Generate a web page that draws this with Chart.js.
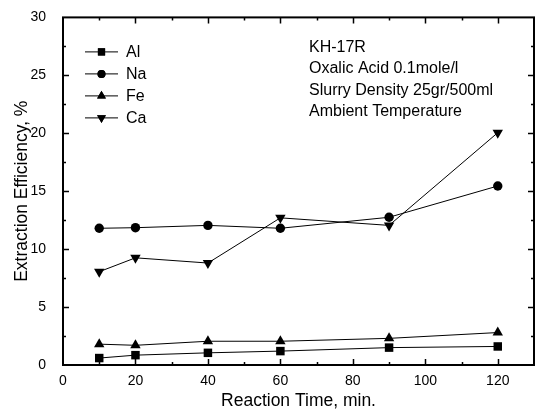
<!DOCTYPE html>
<html>
<head>
<meta charset="utf-8">
<script src="https://cdn.jsdelivr.net/npm/chart.js@4/dist/chart.umd.min.js"></script>
<style>
html,body{margin:0;padding:0;background:#fff;}
#wrap{width:540px;height:413px;position:relative;}
</style>
</head>
<body>
<div id="wrap"><canvas id="c"></canvas></div>
<script>
const times = [10, 20, 40, 60, 90, 120];
const seriesNames = ['Al', 'Na', 'Fe', 'Ca'];
const alValues = [0.6, 0.85, 1.05, 1.2, 1.5, 1.6];
const naValues = [11.8, 11.85, 12.05, 11.8, 12.75, 15.45];
const feValues = [1.8, 1.7, 2.05, 2.05, 2.3, 2.8];
const caValues = [8.05, 9.25, 8.8, 12.7, 12.05, 20.05];
const xTickLabels = [0, 20, 40, 60, 80, 100, 120];
const yTickLabels = [0, 5, 10, 15, 20, 25, 30];
const annotationLines = ['KH-17R', 'Oxalic Acid 0.1mole/l', 'Slurry Density 25gr/500ml', 'Ambient Temperature'];

const FONT = "'Liberation Sans', Arial, Helvetica, sans-serif";
const styles = [
  {pointStyle: 'rect', pointRadius: 6, rotation: 0},
  {pointStyle: 'circle', pointRadius: 4.7, rotation: 0},
  {pointStyle: 'triangle', pointRadius: 6, rotation: 0},
  {pointStyle: 'triangle', pointRadius: 6, rotation: 180}
];
const allValues = [alValues, naValues, feValues, caValues];

const datasets = seriesNames.map((name, i) => ({
  label: name,
  data: times.map((t, j) => ({x: t, y: allValues[i][j]})),
  borderColor: '#000',
  backgroundColor: '#000',
  borderWidth: 1,
  pointStyle: styles[i].pointStyle,
  pointRadius: styles[i].pointRadius,
  pointHoverRadius: styles[i].pointRadius,
  pointRotation: styles[i].rotation,
  pointBorderWidth: 0,
  pointBackgroundColor: '#000',
  tension: 0,
  clip: false
}));

const framePlugin = {
  id: 'frame',
  afterDraw(chart) {
    const {ctx, chartArea: a, scales: {x, y}} = chart;
    ctx.save();
    ctx.strokeStyle = '#000';
    ctx.lineWidth = 1.5;
    // inward ticks
    for (let v = 10; v < 130; v += 10) {
      const px = Math.round(x.getPixelForValue(v)) + 0.5;
      const len = (v % 20 === 0) ? 6 : 3;
      ctx.beginPath();
      ctx.moveTo(px, a.bottom); ctx.lineTo(px, a.bottom - len);
      ctx.moveTo(px, a.top); ctx.lineTo(px, a.top + len);
      ctx.stroke();
    }
    for (let v = 2.5; v < 30; v += 2.5) {
      const py = Math.round(y.getPixelForValue(v)) + 0.5;
      const len = (v % 5 === 0) ? 6 : 3;
      ctx.beginPath();
      ctx.moveTo(a.left, py); ctx.lineTo(a.left + len, py);
      ctx.moveTo(a.right, py); ctx.lineTo(a.right - len, py);
      ctx.stroke();
    }
    ctx.lineWidth = 2;
    ctx.strokeRect(a.left, a.top, a.right - a.left, a.bottom - a.top);

    // legend
    ctx.font = '16px ' + FONT;
    ctx.textBaseline = 'middle';
    ctx.fillStyle = '#000';
    const lx0 = a.left + 22, lx1 = a.left + 55, mx = a.left + 38.5;
    seriesNames.forEach((name, i) => {
      const ly = a.top + 34 + i * 22;
      ctx.lineWidth = 1;
      ctx.beginPath();
      ctx.moveTo(lx0, ly + 0.5); ctx.lineTo(lx1, ly + 0.5);
      ctx.stroke();
      Chart.helpers.drawPoint(ctx, {
        pointStyle: styles[i].pointStyle,
        rotation: styles[i].rotation,
        radius: styles[i].pointRadius * 0.85,
        borderWidth: 0
      }, mx, ly + 0.5);
      ctx.fill();
      ctx.fillText(name, lx1 + 8, ly + 1);
    });

    // annotation
    annotationLines.forEach((t, i) => {
      ctx.fillText(t, a.left + 246, a.top + 30 + i * 21.5);
    });
    ctx.restore();
  }
};

new Chart(document.getElementById('c'), {
  type: 'line',
  data: {datasets},
  options: {
    responsive: true,
    maintainAspectRatio: false,
    animation: false,
    events: [],
    layout: {padding: {left: 0, top: 14, right: 6, bottom: 0}},
    plugins: {legend: {display: false}, tooltip: {enabled: false}},
    scales: {
      x: {
        type: 'linear', min: 0, max: 130,
        grid: {display: false}, border: {display: false},
        afterBuildTicks: s => { s.ticks = xTickLabels.map(v => ({value: v})); },
        afterFit: s => { s.height = 48; },
        ticks: {color: '#000', padding: 0, maxRotation: 0, font: {family: FONT, size: 14}},
        title: {display: true, text: 'Reaction Time, min.', color: '#000', padding: {top: 0, bottom: 1.5}, font: {family: FONT, size: 17.5}}
      },
      y: {
        type: 'linear', min: 0, max: 30,
        grid: {display: false}, border: {display: false},
        afterBuildTicks: s => { s.ticks = yTickLabels.map(v => ({value: v})); },
        afterFit: s => { s.width = 63; },
        ticks: {color: '#000', padding: 9, font: {family: FONT, size: 14}},
        title: {display: true, text: 'Extraction Efficiency, %', color: '#000', padding: {top: 11.5, bottom: 0}, font: {family: FONT, size: 17.5}}
      }
    }
  },
  plugins: [framePlugin]
});
</script>
</body>
</html>
